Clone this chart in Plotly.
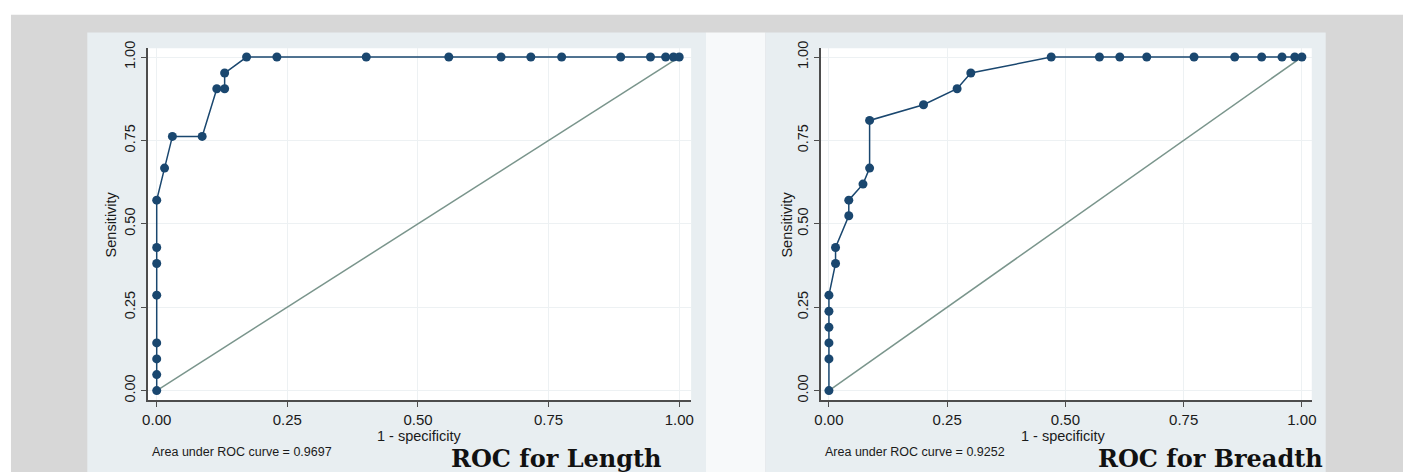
import plotly.graph_objects as go

# page is 1408x474; the body margin is removed by a small post-script
W, H = 1408, 474

# ---------------- data ----------------
length_fpr = [0, 0, 0, 0, 0, 0, 0, 0, 0.015, 0.030, 0.087, 0.115, 0.130, 0.130,
              0.172, 0.230, 0.401, 0.559, 0.659, 0.716, 0.775, 0.888, 0.945, 0.974, 0.989, 1.0]
length_sens = [0, 0.048, 0.095, 0.143, 0.286, 0.381, 0.429, 0.571, 0.667, 0.762, 0.762, 0.905,
               0.905, 0.952, 1, 1, 1, 1, 1, 1, 1, 1, 1, 1, 1, 1]

breadth_fpr = [0, 0, 0, 0, 0, 0, 0.014, 0.014, 0.042, 0.042, 0.072, 0.086, 0.086, 0.200,
               0.271, 0.300, 0.470, 0.572, 0.615, 0.672, 0.772, 0.858, 0.915, 0.958, 0.985, 1.0]
breadth_sens = [0, 0.095, 0.143, 0.190, 0.238, 0.286, 0.381, 0.429, 0.524, 0.571, 0.619, 0.667,
                0.810, 0.857, 0.905, 0.952, 1, 1, 1, 1, 1, 1, 1, 1, 1, 1]

ref_line = [0, 1]
tick_vals = [0, 0.25, 0.5, 0.75, 1.0]
tick_text = ["0.00", "0.25", "0.50", "0.75", "1.00"]
auc_labels = ["Area under ROC curve = 0.9697", "Area under ROC curve = 0.9252"]
panel_titles = ["ROC for Length", "ROC for Breadth"]
x_title = "1 - specificity"
y_title = "Sensitivity"

# ---------------- helpers (page pixel -> paper fraction) ----------------
def px(x):
    return x / W

def py(y):
    return 1 - y / H

NAVY = "#1a476f"
DIAG = "#7a958c"
AXC = "#4d4d4d"
PANEL = "#e8eef1"
FONT = "Liberation Sans"
TXT = "#1a1a1a"

fig = go.Figure()

for i, (fx, fy) in enumerate([(length_fpr, length_sens), (breadth_fpr, breadth_sens)]):
    xa = "x" if i == 0 else "x2"
    ya = "y" if i == 0 else "y2"
    fig.add_trace(go.Scatter(x=ref_line, y=ref_line, mode="lines",
                             line=dict(color=DIAG, width=1.5),
                             xaxis=xa, yaxis=ya, showlegend=False, hoverinfo="skip"))
    fig.add_trace(go.Scatter(x=fx, y=fy, mode="lines+markers",
                             line=dict(color=NAVY, width=1.5),
                             marker=dict(color=NAVY, size=9),
                             xaxis=xa, yaxis=ya, showlegend=False))

axis_common = dict(
    showline=True, linecolor=AXC, linewidth=1.5, mirror=False,
    ticks="outside", ticklen=5, tickcolor=AXC, tickwidth=1,
    showgrid=True, gridcolor="#edf1f3", gridwidth=1,
    zeroline=False, tickvals=tick_vals, ticktext=tick_text,
    fixedrange=True,
)
xfont = dict(family=FONT, size=15, color=TXT)
yfont = dict(family=FONT, size=14.5, color=TXT)

ydom = [py(401), py(42)]
yrange = [-0.0294, 1.0265]
ldom = [px(142), px(690)]
rdom = [px(821), px(1316)]

fig.update_layout(
    width=W, height=H,
    margin=dict(l=0, r=0, t=0, b=0),
    paper_bgcolor="white",
    plot_bgcolor="white",
    xaxis=dict(domain=ldom, range=[-0.01708, 1.02277], anchor="y", tickfont=xfont, **axis_common),
    yaxis=dict(domain=ydom, range=yrange, anchor="x", tickangle=-90, tickfont=yfont, **axis_common),
    xaxis2=dict(domain=rdom, range=[-0.01677, 1.02096], anchor="y2", tickfont=xfont, **axis_common),
    yaxis2=dict(domain=ydom, range=yrange, anchor="x2", tickangle=-90, tickfont=yfont, **axis_common),
    showlegend=False,
)

# background panels (drawn below traces); white plot regions on top of them
shapes = [
    dict(x0=px(4), x1=px(1408), y0=py(8), y1=py(474), fillcolor="#d7d7d7"),
    dict(x0=px(81), x1=px(705), y0=py(26), y1=py(474), fillcolor=PANEL),
    dict(x0=px(705), x1=px(765), y0=py(26), y1=py(474), fillcolor="#f7f9fa"),
    dict(x0=px(765), x1=px(1330), y0=py(26), y1=py(474), fillcolor=PANEL),
    dict(x0=ldom[0], x1=ldom[1], y0=ydom[0], y1=ydom[1], fillcolor="white"),
    dict(x0=rdom[0], x1=rdom[1], y0=ydom[0], y1=ydom[1], fillcolor="white"),
]
for s in shapes:
    fig.add_shape(type="rect", xref="paper", yref="paper", layer="below",
                  line=dict(width=0), **s)

# text annotations
ann = []
for i, (ylab_x, xlab_x, auc_x, title_x) in enumerate([(105, 416, 144, 554), (787, 1066, 823, 1214)]):
    ann.append(dict(text=y_title, x=px(ylab_x), y=py(221.5), textangle=-90,
                    font=dict(family=FONT, size=14.5, color=TXT)))
    ann.append(dict(text=x_title, x=px(xlab_x), y=py(437),
                    font=dict(family=FONT, size=14.5, color=TXT)))
    ann.append(dict(text=auc_labels[i], x=px(auc_x), y=py(454), xanchor="left",
                    font=dict(family=FONT, size=12.5, color=TXT)))
    ann.append(dict(text="<b>" + panel_titles[i] + "</b>", x=px(title_x), y=py(460),
                    font=dict(family="DejaVu Serif", size=24, color="#111111")))
for a in ann:
    a.setdefault("xanchor", "center")
    fig.add_annotation(xref="paper", yref="paper", yanchor="middle", showarrow=False, **a)

fig.write_html("out.html", config={"displayModeBar": False},
               post_script="document.body.style.margin='0';document.body.style.overflow='hidden';")
